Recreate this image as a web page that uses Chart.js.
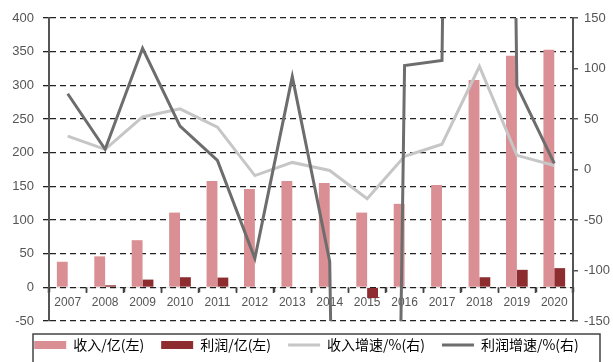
<!DOCTYPE html>
<html>
<head>
<meta charset="utf-8">
<script src="https://cdn.jsdelivr.net/npm/chart.js@4"></script>
<style>
  html, body { margin: 0; padding: 0; background: #fff; }
  #wrap { width: 613px; height: 362px; }
</style>
</head>
<body>
<div id="wrap"><canvas id="combo"></canvas></div>
<script>
// Yearly revenue / profit (亿, left axis) and growth rates (%, right axis)
const years = ['2007', '2008', '2009', '2010', '2011', '2012', '2013',
               '2014', '2015', '2016', '2017', '2018', '2019', '2020'];
const revenue = [38, 46, 70, 111, 158, 146, 158, 155, 111, 124, 152, 308, 344, 353];
const profit = [1, 3, 11.5, 15, 14.5, 1, 1, 1, -16, 1, 1, 15, 26, 28.5];
const revenueGrowth = [33, 20, 52, 60, 42, -6, 7, -1, -29, 13, 25, 102, 14, 4];
const profitGrowth = [75, 20, 120, 43, 9, -88, 92, -91, -2500, 103, 108, 3000, 83, 6];

const leftTicks = { min: -50, max: 400, step: 50 };
const rightTicks = { min: -150, max: 150, step: 50 };

const seriesNames = ['收入/亿(左)', '利润/亿(左)', '收入增速/%(右)', '利润增速/%(右)'];

const tickFont = { family: 'Liberation Sans', size: 13 };

// small tick marks under the zero line between the years
const yearTicks = {
  id: 'yearTicks',
  afterDraw(chart) {
    const { ctx, scales: { x, y } } = chart;
    const y0 = y.getPixelForValue(0);
    const half = (x.getPixelForValue(1) - x.getPixelForValue(0)) / 2;
    if (!isFinite(y0) || !isFinite(half)) return;
    ctx.save();
    ctx.strokeStyle = '#444';
    ctx.lineWidth = 1.5;
    ctx.beginPath();
    for (let i = 0; i <= years.length; i++) {
      const px = Math.round(x.getPixelForValue(i) - half) + 0.5;
      ctx.moveTo(px, y0);
      ctx.lineTo(px, y0 + 5);
    }
    ctx.stroke();
    ctx.restore();
  }
};

// frame around the legend row
const legendFrame = {
  id: 'legendFrame',
  afterDraw(chart) {
    const { ctx, chartArea } = chart;
    ctx.save();
    ctx.strokeStyle = '#444';
    ctx.lineWidth = 1.5;
    ctx.strokeRect(chartArea.left - 16, chartArea.bottom + 13, chartArea.width + 43, 40);
    ctx.restore();
  }
};

const chart = new Chart(document.getElementById('combo'), {
  type: 'bar',
  data: {
    labels: years,
    datasets: [
      {
        label: seriesNames[0],
        data: revenue,
        backgroundColor: '#d98f93',
        yAxisID: 'y',
        order: 2,
        categoryPercentage: 0.58,
        barPercentage: 1
      },
      {
        label: seriesNames[1],
        data: profit,
        backgroundColor: '#8e2d2f',
        yAxisID: 'y',
        order: 2,
        categoryPercentage: 0.58,
        barPercentage: 1
      },
      {
        type: 'line',
        label: seriesNames[2],
        data: revenueGrowth,
        borderColor: '#c6c6c6',
        backgroundColor: '#c6c6c6',
        borderWidth: 3,
        pointRadius: 0,
        yAxisID: 'y1',
        order: 1
      },
      {
        type: 'line',
        label: seriesNames[3],
        data: profitGrowth,
        borderColor: '#6d6d6d',
        backgroundColor: '#6d6d6d',
        borderWidth: 3,
        pointRadius: 0,
        yAxisID: 'y1',
        order: 0
      }
    ]
  },
  options: {
    responsive: true,
    maintainAspectRatio: false,
    animation: false,
    layout: { padding: { top: 18 } },
    plugins: {
      tooltip: { enabled: false },
      legend: {
        position: 'bottom',
        labels: {
          usePointStyle: true,
          pointStyleWidth: 32,
          boxHeight: 8,
          padding: 17,
          color: '#666',
          font: { family: 'Noto Sans CJK SC', size: 14 },
          generateLabels: chart => chart.data.datasets.map((ds, i) => ({
            text: ds.label,
            datasetIndex: i,
            fillStyle: ds.backgroundColor,
            strokeStyle: ds.borderColor || ds.backgroundColor,
            lineWidth: ds.type === 'line' ? 3 : 0,
            pointStyle: ds.type === 'line' ? 'line' : 'rect',
            hidden: false
          }))
        }
      }
    },
    scales: {
      x: {
        position: { y: 0 },
        grid: { drawOnChartArea: false, tickLength: 5, tickColor: '#444', tickWidth: 1.5 },
        ticks: { color: '#555', font: { family: 'Liberation Sans', size: 12 }, padding: 3, maxRotation: 0 }
      },
      y: {
        position: 'left',
        min: leftTicks.min,
        max: leftTicks.max,
        afterFit: scale => { scale.width = 49; },
        ticks: { stepSize: leftTicks.step, color: '#555', font: tickFont, padding: 9 },
        grid: { color: '#222', lineWidth: 1.3, tickLength: 6 },
        border: { display: true, color: '#555', width: 2, dash: [6, 4] }
      },
      y1: {
        position: 'right',
        min: rightTicks.min,
        max: rightTicks.max,
        afterFit: scale => { scale.width = 40; },
        ticks: { stepSize: rightTicks.step, color: '#555', font: tickFont, padding: 6 },
        grid: { drawOnChartArea: false, tickLength: 5, color: '#555', lineWidth: 1.5 },
        border: { display: true, color: '#555', width: 2 }
      }
    }
  },
  plugins: [yearTicks, legendFrame]
});

// redraw once the canvas has settled at its final size
setTimeout(() => chart.update('none'), 100);
</script>
</body>
</html>
